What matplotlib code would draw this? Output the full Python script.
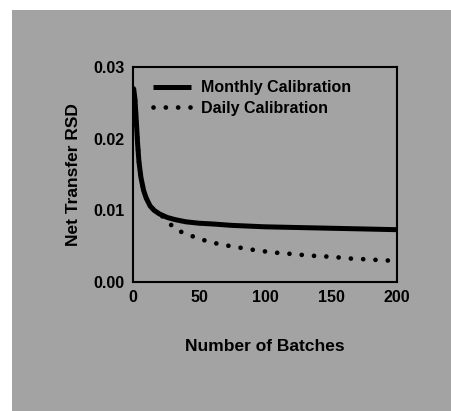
import matplotlib
matplotlib.use("Agg")
import matplotlib.pyplot as plt
from matplotlib.patches import Rectangle

monthly_x = [0.5, 1.5, 2.5, 3.5, 4.5, 6, 8, 10, 13, 16, 20, 26, 32, 40, 50, 60, 75,
             100, 125, 150, 175, 200]
monthly_y = [0.027, 0.0255, 0.0225, 0.0193, 0.0168, 0.0146, 0.0128, 0.0117, 0.0106,
             0.0100, 0.0095, 0.0090, 0.0087, 0.0084, 0.0082, 0.0081, 0.0079,
             0.0077, 0.0076, 0.0075, 0.0074, 0.0073]

daily_x = [0.5, 1.5, 2.5, 3.5, 4.5, 6, 8, 10, 13, 16, 20, 24, 28, 33, 40, 48, 56, 65,
           74, 84, 94, 103, 113, 122, 132, 142, 152, 162, 173, 183, 193, 200]
daily_y = [0.027, 0.0255, 0.0225, 0.0193, 0.0168, 0.0146, 0.0128, 0.0117, 0.0106,
           0.0100, 0.0095, 0.0089, 0.0081, 0.0073, 0.0067, 0.0062, 0.0057, 0.0053,
           0.0050, 0.0047, 0.0044, 0.0042, 0.0040, 0.0039, 0.0037, 0.0036, 0.0035,
           0.0033, 0.0032, 0.0031, 0.0030, 0.0029]

x_ticks = [0, 50, 100, 150, 200]
y_ticks = [0.00, 0.01, 0.02, 0.03]
y_labels = ["0.00", "0.01", "0.02", "0.03"]

GRAY = "#a3a3a3"
FONT = "Liberation Sans"

fig = plt.figure(figsize=(4.51, 4.11), dpi=100, facecolor="white")
fig.patches.append(Rectangle((12 / 451, 0), 1, 1 - 10 / 411, transform=fig.transFigure,
                             facecolor=GRAY, edgecolor="none", zorder=-10))

ax = fig.add_axes([133 / 451, 1 - 282 / 411, 264 / 451, 215 / 411])
ax.set_facecolor("none")

ax.plot(daily_x, daily_y, color="black", lw=3.4, ls=(0, (0.01, 2.6)),
        dash_capstyle="round", label="Daily Calibration", zorder=2)
ax.plot(monthly_x, monthly_y, color="black", lw=3.6, solid_capstyle="butt",
        solid_joinstyle="round", label="Monthly Calibration", zorder=3)

ax.set_xlim(0, 200)
ax.set_ylim(0, 0.03)
ax.set_xticks(x_ticks)
ax.set_yticks(y_ticks)
ax.set_yticklabels(y_labels)
ax.tick_params(length=0, pad=6, labelsize=11.5)
for lab in ax.get_xticklabels() + ax.get_yticklabels():
    lab.set_fontfamily(FONT)
    lab.set_fontweight("bold")
for sp in ax.spines.values():
    sp.set_linewidth(1.5)

ax.set_xlabel("Number of Batches", fontsize=12.5, fontfamily=FONT,
              fontweight="bold", labelpad=24)
ax.set_ylabel("Net Transfer RSD", fontsize=12.5, fontfamily=FONT,
              fontweight="bold", labelpad=9)

h, l = ax.get_legend_handles_labels()
leg = ax.legend(h[::-1], l[::-1], loc="upper left", bbox_to_anchor=(0.045, 0.975),
                frameon=False, handlelength=2.4, handletextpad=0.6,
                labelspacing=0.35, borderpad=0,
                prop={"family": FONT, "weight": "bold", "size": 11.5})

fig.savefig("out.png", dpi=100, facecolor=fig.get_facecolor())
